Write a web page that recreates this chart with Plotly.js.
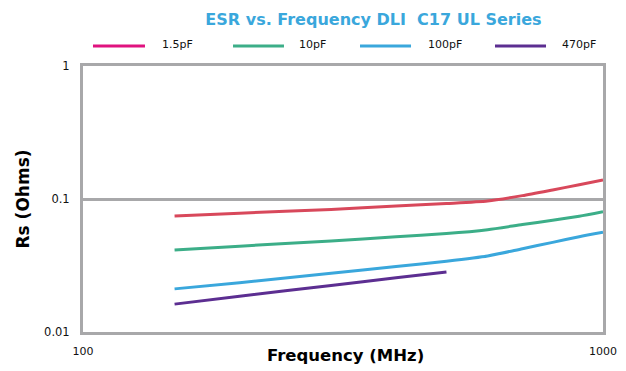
<!DOCTYPE html>
<html>
<head>
<meta charset="utf-8">
<script src="https://cdn.plot.ly/plotly-3.0.1.min.js"></script>
<style>html,body{margin:0;padding:0;background:#fff;}#chart{width:626px;height:371px;}</style>
</head>
<body>
<div id="chart"></div>
<script>
// ---- data ----
var freq = [150, 200, 300, 400, 500, 600, 700, 800, 900, 1000];
var freq470 = [150, 200, 300, 400, 500];
var esr_1p5pF = [0.0745, 0.0783, 0.0835, 0.0886, 0.0925, 0.0966, 0.106, 0.117, 0.128, 0.139];
var esr_10pF = [0.0414, 0.0442, 0.0483, 0.0520, 0.0550, 0.0588, 0.0642, 0.0691, 0.0743, 0.0803];
var esr_100pF = [0.0211, 0.0235, 0.0276, 0.0311, 0.0341, 0.0373, 0.0423, 0.0472, 0.0521, 0.0562];
var esr_470pF = [0.0162, 0.0186, 0.0224, 0.0256, 0.0283];
var seriesNames = ['1.5pF', '10pF', '100pF', '470pF'];
var xTickVals = [100, 1000];
var xTickText = ['100', '1000'];
var yTickVals = [0.01, 0.1, 1];
var yTickText = ['0.01', '0.1', '1'];

// ---- styles ----
var lineColors = ['#d8485b', '#3cae88', '#3aa7dc', '#5c2e91'];
var legendColors = ['#e0127f', '#3cae88', '#3aa7dc', '#5c2e91'];
var xs = [freq, freq, freq, freq470];
var ys = [esr_1p5pF, esr_10pF, esr_100pF, esr_470pF];

var traces = ys.map(function (y, i) {
  return {x: xs[i], y: y, type: 'scatter', mode: 'lines', name: seriesNames[i],
          line: {color: lineColors[i], width: 3, shape: 'spline', smoothing: 0.6},
          showlegend: false, hoverinfo: 'skip'};
});

// manual legend (line + label) placed above the plot
var legLine = [[0.0192, 0.1192], [0.2885, 0.3865], [0.5327, 0.6308], [0.7923, 0.8904]];
var legText = [0.148, 0.4115, 0.6595, 0.9172];
var legY = 1.0752;
var shapes = [], annotations = [];
seriesNames.forEach(function (n, i) {
  shapes.push({type: 'line', xref: 'paper', yref: 'paper', x0: legLine[i][0], x1: legLine[i][1],
               y0: legY, y1: legY, line: {color: legendColors[i], width: 3}});
  annotations.push({xref: 'paper', yref: 'paper', x: legText[i], y: legY + 0.006, xanchor: 'left',
                    yanchor: 'middle', text: n, showarrow: false,
                    font: {family: 'DejaVu Sans', size: 11, color: '#111'}});
});
// x-axis title (placed level with the tick labels, as in the original)
annotations.push({xref: 'paper', yref: 'paper', x: 0.505, y: -0.088, xanchor: 'center', yanchor: 'middle',
                  text: 'Frequency (MHz)', showarrow: false,
                  font: {family: 'DejaVu Sans', size: 16.5, color: '#000', weight: 'bold'}});

var gray = '#a8a8aa';
var layout = {
  width: 626, height: 371,
  margin: {l: 83, r: 23, t: 66, b: 39, pad: 0},
  paper_bgcolor: '#fff', plot_bgcolor: '#fff',
  title: {text: 'ESR vs. Frequency DLI&nbsp; C17 UL Series', xref: 'container', yref: 'container',
          x: 0.5966, y: 0.949, xanchor: 'center', yanchor: 'middle',
          font: {family: 'DejaVu Sans', size: 16, color: '#3aa7dc', weight: 'bold'}},
  xaxis: {type: 'log', range: [2, 3], showgrid: false, zeroline: false,
          showline: true, mirror: true, linecolor: gray, linewidth: 3,
          tickmode: 'array', tickvals: xTickVals, ticktext: xTickText, ticks: '',
          ticklabelstandoff: 7,
          tickfont: {family: 'DejaVu Sans', size: 11, color: '#111'}},
  yaxis: {type: 'log', range: [-2, 0], showgrid: true, gridcolor: gray, gridwidth: 3, zeroline: false,
          showline: true, mirror: true, linecolor: gray, linewidth: 3,
          tickmode: 'array', tickvals: yTickVals, ticktext: yTickText, ticks: '',
          ticklabelstandoff: 8,
          tickfont: {family: 'DejaVu Sans', size: 11.5, color: '#111'},
          title: {text: 'Rs (Ohms)', standoff: 11,
                  font: {family: 'DejaVu Sans', size: 17, color: '#000', weight: 'bold'}}},
  shapes: shapes,
  annotations: annotations
};

Plotly.newPlot('chart', traces, layout, {displayModeBar: false, staticPlot: true});
</script>
</body>
</html>
